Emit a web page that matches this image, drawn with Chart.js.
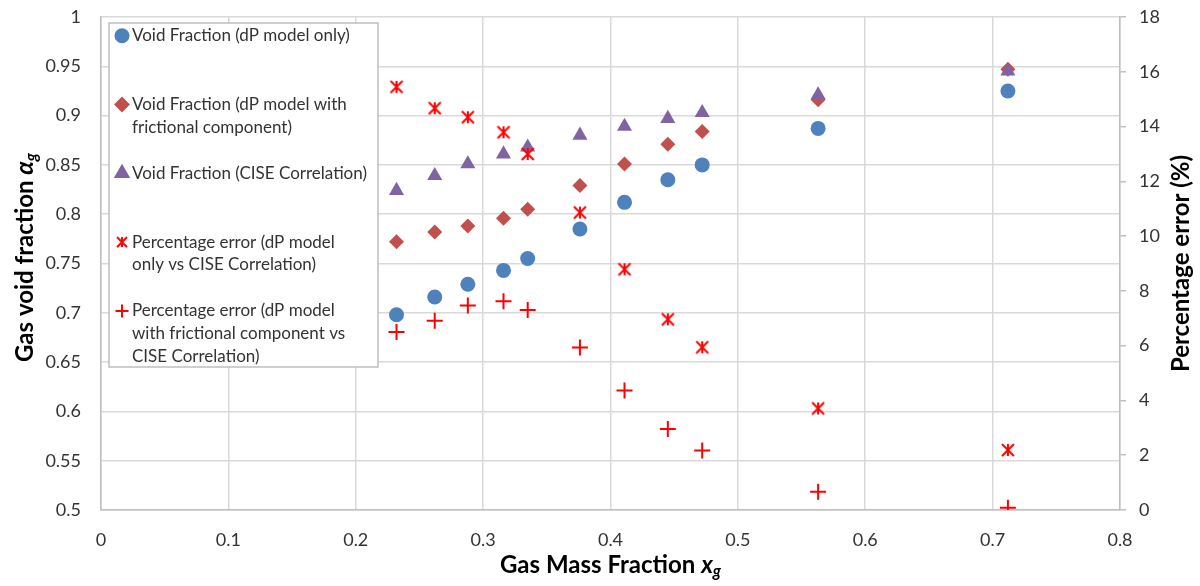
<!DOCTYPE html>
<html>
<head>
<meta charset="utf-8">
<script src="https://cdn.jsdelivr.net/npm/chart.js@4.4.1/dist/chart.umd.min.js"></script>
<style>
  html, body { margin: 0; padding: 0; background: #fff; }
</style>
</head>
<body>
<canvas id="chart" width="1200" height="586"></canvas>
<script>
// values
const gasMassFraction = [0.232, 0.262, 0.288, 0.316, 0.335, 0.376, 0.411, 0.445, 0.472, 0.563, 0.712];
const voidDpOnly      = [0.698, 0.716, 0.729, 0.743, 0.755, 0.785, 0.812, 0.835, 0.850, 0.887, 0.925];
const voidDpFriction  = [0.772, 0.782, 0.788, 0.796, 0.805, 0.829, 0.851, 0.871, 0.884, 0.916, 0.947];
const voidCise        = [0.824, 0.839, 0.851, 0.861, 0.868, 0.880, 0.889, 0.897, 0.903, 0.921, 0.945];
const errDpOnly       = [15.45, 14.67, 14.34, 13.79, 13.00, 10.86, 8.79, 6.96, 5.94, 3.71, 2.19];
const errDpFriction   = [6.50, 6.91, 7.47, 7.62, 7.30, 5.93, 4.36, 2.96, 2.17, 0.67, 0.08];

const xTicks = [0, 0.1, 0.2, 0.3, 0.4, 0.5, 0.6, 0.7, 0.8];
const leftTicks = [0.5, 0.55, 0.6, 0.65, 0.7, 0.75, 0.8, 0.85, 0.9, 0.95, 1];
const rightTicks = [0, 2, 4, 6, 8, 10, 12, 14, 16, 18];

const legendLines = [
  ['Void Fraction (dP model only)'],
  ['Void Fraction (dP model with', 'frictional component)'],
  ['Void Fraction (CISE Correlation)'],
  ['Percentage error (dP model', 'only vs CISE Correlation)'],
  ['Percentage error (dP model', 'with frictional component vs', 'CISE Correlation)']
];

const FONT = 'Lato, "Open Sans", sans-serif';
const TEXT = '#333';
const GRID = '#d9d9d9';
const AXIS = '#bfbfbf';

function toPoints(ys) {
  return gasMassFraction.map((x, i) => ({ x, y: ys[i] }));
}

function makeAsterisk(size, color) {
  const c = document.createElement('canvas');
  c.width = c.height = size + 4;
  const g = c.getContext('2d');
  const m = c.width / 2, h = size / 2;
  g.strokeStyle = color;
  g.lineWidth = 2;
  g.beginPath();
  g.moveTo(m - h, m - h); g.lineTo(m + h, m + h);
  g.moveTo(m + h, m - h); g.lineTo(m - h, m + h);
  g.moveTo(m, m - h); g.lineTo(m, m + h);
  g.stroke();
  return c;
}

const asterisk = makeAsterisk(12, '#ff0000');
const asteriskSmall = makeAsterisk(10, '#ff0000');

const datasets = [
  { label: legendLines[0].join(' '), data: toPoints(voidDpOnly), yAxisID: 'y', order: 5,
    pointStyle: 'circle', pointRadius: 7.5, backgroundColor: '#4f81bd', borderColor: '#4f81bd', borderWidth: 0 },
  { label: legendLines[1].join(' '), data: toPoints(voidDpFriction), yAxisID: 'y', order: 4,
    pointStyle: 'rectRot', pointRadius: 7.5, backgroundColor: '#c0504d', borderColor: '#c0504d', borderWidth: 0 },
  { label: legendLines[2].join(' '), data: toPoints(voidCise), yAxisID: 'y', order: 3,
    pointStyle: 'triangle', pointRadius: 8.7, backgroundColor: '#8064a2', borderColor: '#8064a2', borderWidth: 0 },
  { label: legendLines[3].join(' '), data: toPoints(errDpOnly), yAxisID: 'y2', order: 2,
    pointStyle: asterisk, pointRadius: 6, backgroundColor: '#ff0000', borderColor: '#ff0000' },
  { label: legendLines[4].join(' '), data: toPoints(errDpFriction), yAxisID: 'y2', order: 1,
    pointStyle: 'cross', pointRadius: 8, backgroundColor: '#ff0000', borderColor: '#ff0000', borderWidth: 2 }
];

const legendMarkers = [
  { pointStyle: 'circle', radius: 6.5, color: '#4f81bd' },
  { pointStyle: 'rectRot', radius: 6.5, color: '#c0504d' },
  { pointStyle: 'triangle', radius: 7.5, color: '#8064a2' },
  { pointStyle: asteriskSmall, radius: 5, color: '#ff0000' },
  { pointStyle: 'cross', radius: 6.5, color: '#ff0000' }
];

// draws text pieces one after another: [text, italic, subscript]
function drawRich(ctx, parts, size) {
  let total = 0;
  const widths = parts.map(([t, it, sub]) => {
    ctx.font = (it ? 'italic ' : '') + 'bold ' + (sub ? size * 0.68 : size) + 'px ' + FONT;
    const w = ctx.measureText(t).width;
    total += w;
    return w;
  });
  let x = -total / 2;
  parts.forEach(([t, it, sub], i) => {
    ctx.font = (it ? 'italic ' : '') + 'bold ' + (sub ? size * 0.68 : size) + 'px ' + FONT;
    ctx.fillText(t, x, sub ? size * 0.3 : 0);
    x += widths[i];
  });
}

const decorPlugin = {
  id: 'decor',
  afterDraw(chart) {
    const ctx = chart.ctx;
    const area = chart.chartArea;
    const midY = (area.top + area.bottom) / 2;

    // axis titles
    ctx.save();
    ctx.fillStyle = '#000';
    ctx.textBaseline = 'middle';
    ctx.textAlign = 'left';
    ctx.translate((area.left + area.right) / 2, 565);
    drawRich(ctx, [['Gas Mass Fraction ', false, false], ['x', true, false], ['g', true, true]], 24);
    ctx.restore();

    ctx.save();
    ctx.fillStyle = '#000';
    ctx.textBaseline = 'middle';
    ctx.textAlign = 'left';
    ctx.translate(25, midY - 6);
    ctx.rotate(-Math.PI / 2);
    drawRich(ctx, [['Gas void fraction ', false, false], ['\u03b1', true, false], ['g', true, true]], 24);
    ctx.restore();

    ctx.save();
    ctx.fillStyle = '#000';
    ctx.textBaseline = 'middle';
    ctx.textAlign = 'left';
    ctx.translate(1181, midY);
    ctx.rotate(-Math.PI / 2);
    drawRich(ctx, [['Percentage error (%)', false, false]], 24);
    ctx.restore();

    // legend box inside the plot
    const box = { left: 109, top: 23, right: 378, bottom: 367 };
    const slot = (box.bottom - box.top) / legendLines.length;
    ctx.save();
    ctx.fillStyle = '#fff';
    ctx.fillRect(box.left, box.top, box.right - box.left, box.bottom - box.top);
    ctx.strokeStyle = AXIS;
    ctx.lineWidth = 1.5;
    ctx.strokeRect(box.left, box.top, box.right - box.left, box.bottom - box.top);
    ctx.font = '17px ' + FONT;
    ctx.textBaseline = 'middle';
    ctx.textAlign = 'left';
    legendLines.forEach((lines, i) => {
      const y0 = box.top + 12.7 + i * slot;
      const m = legendMarkers[i];
      ctx.fillStyle = m.color;
      ctx.strokeStyle = m.color;
      ctx.lineWidth = 2;
      Chart.helpers.drawPoint(ctx, { pointStyle: m.pointStyle, radius: m.radius, rotation: 0, borderWidth: 2 }, 122, y0);
      ctx.fillStyle = TEXT;
      lines.forEach((t, j) => ctx.fillText(t, 132, y0 + j * 22.6));
    });
    ctx.restore();
  }
};

function fitVertical(width) {
  return s => {
    s.width = width;
    s.paddingTop = 0;
    s.paddingBottom = 0;
  };
}

new Chart(document.getElementById('chart'), {
  type: 'scatter',
  data: { datasets },
  plugins: [decorPlugin],
  options: {
    responsive: false,
    animation: false,
    devicePixelRatio: 1,
    layout: { padding: { top: 17, left: 0, right: 0, bottom: 0 } },
    plugins: { legend: { display: false }, tooltip: { enabled: false } },
    scales: {
      x: {
        type: 'linear', position: 'bottom', min: 0, max: 0.8,
        afterFit: s => { s.height = 76; s.paddingLeft = 0; s.paddingRight = 0; },
        afterBuildTicks: s => { s.ticks = xTicks.map(v => ({ value: v })); },
        grid: { color: GRID, lineWidth: 1.5, drawTicks: false },
        border: { color: AXIS, width: 1.5 },
        ticks: { padding: 19, color: TEXT, font: { family: FONT, size: 18 }, callback: v => String(+v.toFixed(2)) }
      },
      y: {
        type: 'linear', position: 'left', min: 0.5, max: 1,
        afterFit: fitVertical(101),
        afterBuildTicks: s => { s.ticks = leftTicks.map(v => ({ value: v })); },
        grid: { color: GRID, lineWidth: 1.5, drawTicks: false },
        border: { color: AXIS, width: 1.5 },
        ticks: { padding: 20, color: TEXT, font: { family: FONT, size: 18 }, callback: v => String(+v.toFixed(2)) }
      },
      y2: {
        type: 'linear', position: 'right', min: 0, max: 18,
        afterFit: fitVertical(80),
        afterBuildTicks: s => { s.ticks = rightTicks.map(v => ({ value: v })); },
        grid: { drawOnChartArea: false, drawTicks: true, tickLength: 6, color: AXIS, lineWidth: 1.5 },
        border: { color: AXIS, width: 1.5 },
        ticks: { padding: 13, color: TEXT, font: { family: FONT, size: 18 }, callback: v => String(v) }
      }
    }
  }
});
</script>
</body>
</html>
